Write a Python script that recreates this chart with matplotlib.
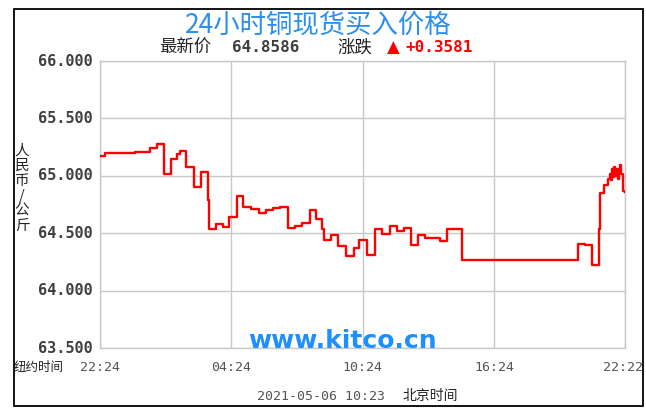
import matplotlib
matplotlib.use("Agg")
import matplotlib.pyplot as plt
from matplotlib.patches import Rectangle

# ---- data (hours since 22:24 New York time, price) ----
hours = [0.00, 0.23, 1.59, 2.27, 2.62, 2.91, 3.26, 3.53, 3.64, 3.94, 4.27, 4.59,
         4.92, 4.97, 5.30, 5.61, 5.91, 6.26, 6.55, 6.89, 7.27, 7.58, 7.91, 8.21,
         8.59, 8.91, 9.24, 9.58, 9.85, 10.15, 10.23, 10.56, 10.88, 11.21, 11.59,
         11.82, 12.20, 12.55, 12.88, 13.26, 13.56, 13.86, 14.20, 14.51, 14.85,
         15.53, 15.83, 16.51, 21.82, 22.15, 22.47, 22.77, 22.83, 23.03, 23.18,
         23.27, 23.33, 23.38, 23.43, 23.48, 23.53, 23.58, 23.63, 23.68, 23.73,
         23.79, 23.86, 23.97]
prices = [65.17, 65.20, 65.21, 65.24, 65.28, 65.02, 65.15, 65.19, 65.22, 65.08,
          64.90, 65.03, 64.79, 64.54, 64.58, 64.555, 64.64, 64.82, 64.73, 64.71,
          64.68, 64.70, 64.72, 64.73, 64.545, 64.565, 64.59, 64.70, 64.62, 64.537,
          64.44, 64.485, 64.385, 64.30, 64.37, 64.44, 64.31, 64.537, 64.49, 64.56,
          64.517, 64.545, 64.40, 64.485, 64.46, 64.43, 64.537, 64.27, 64.41, 64.40,
          64.22, 64.537, 64.85, 64.92, 64.97, 65.02, 64.96, 65.06, 64.99, 65.08,
          65.00, 65.06, 64.97, 65.05, 65.09, 65.02, 64.87, 64.8586]

xtick_pos = [0, 6, 12, 18, 23.97]
xtick_labels = ["22:24", "04:24", "10:24", "16:24", "22:22"]
ytick_vals = [63.5, 64.0, 64.5, 65.0, 65.5, 66.0]
ytick_labels = ["63.500", "64.000", "64.500", "65.000", "65.500", "66.000"]

title = "24小时铜现货买入价格"
last_price = "64.8586"
change = "+0.3581"

W, H = 646, 415
fig = plt.figure(figsize=(W / 100, H / 100), dpi=100)
fig.patch.set_facecolor("white")

CJK = ["Noto Sans CJK SC", "DejaVu Sans"]
MONO = ["DejaVu Sans Mono"]

def px(x, y):
    return x / W, 1 - y / H

# outer frame
fig.patches.append(Rectangle(px(14, 406), (642.5 - 14) / W, (406 - 9) / H,
                             transform=fig.transFigure, fill=False,
                             edgecolor="black", linewidth=1.3))

left, right, top, bottom = 100, 625, 61, 348
ax = fig.add_axes([left / W, 1 - bottom / H, (right - left) / W, (bottom - top) / H])
ax.step(hours, prices, where="post", color="#ff0000", linewidth=1.7, zorder=3)
ax.set_xlim(0, 23.97)
ax.set_ylim(63.5, 66.0)
ax.set_xticks(xtick_pos)
ax.set_yticks(ytick_vals)
ax.set_xticklabels([])
ax.set_yticklabels([])
ax.tick_params(length=0)
ax.grid(True, color="#c8c8c8", linewidth=1.0)
for s in ax.spines.values():
    s.set_color("#c8c8c8")
    s.set_linewidth(1.0)

# y tick labels
for v, lab in zip(ytick_vals, ytick_labels):
    yp = top + (66.0 - v) / 2.5 * (bottom - top)
    fig.text(*px(93, yp), lab, ha="right", va="center", family=MONO,
             fontsize=11, fontweight="bold", color="#404040")

# x tick labels
for h, lab in zip(xtick_pos, xtick_labels):
    xp = left + h / 23.97 * (right - left)
    if lab == "22:24":
        fig.text(*px(80, 367), lab, ha="left", va="center", family=MONO,
                 fontsize=9.5, color="#555555")
    elif lab == "22:22":
        fig.text(*px(643, 367), lab, ha="right", va="center", family=MONO,
                 fontsize=9.5, color="#555555")
    else:
        fig.text(*px(xp, 367), lab, ha="center", va="center", family=MONO,
                 fontsize=9.5, color="#555555")

fig.text(*px(14, 367), "纽约时间", ha="left", va="center", family=CJK,
         fontsize=9, color="#222222")

# y label (stacked chars)
for i, ch in enumerate("人民币/公斤"):
    fig.text(*px(22, 151 + i * 15), ch, ha="center", va="center", family=CJK,
             fontsize=10.5, color="#222222")

# title & subtitle
fig.text(*px(318, 25), title, ha="center", va="center", family=CJK,
         fontsize=19, color="#2a8ff0")
fig.text(*px(185, 48), "最新价", ha="center", va="center", family=CJK,
         fontsize=12.5, color="#222222")
fig.text(*px(266, 48), last_price, ha="center", va="center", family=MONO,
         fontsize=11.5, fontweight="bold", color="#404040")
fig.text(*px(355, 48), "涨跌", ha="center", va="center", family=CJK,
         fontsize=12.5, color="#222222")
fig.text(*px(393, 48), "▲", ha="center", va="center", family=["DejaVu Sans"],
         fontsize=12, color="#ff0000")
fig.text(*px(439, 48), change, ha="center", va="center", family=MONO,
         fontsize=11.5, fontweight="bold", color="#ff0000")

# watermark
fig.text(*px(342, 341), "www.kitco.cn", ha="center", va="center",
         family=["DejaVu Sans"], fontsize=18, fontweight="bold", color="#1e8fff",
         zorder=5)

# bottom date
fig.text(*px(321, 396), "2021-05-06 10:23", ha="center", va="center", family=MONO,
         fontsize=9.5, color="#555555")
fig.text(*px(430, 396), "北京时间", ha="center", va="center", family=CJK,
         fontsize=10, color="#222222")

fig.savefig("out.png", dpi=100, facecolor="white")
